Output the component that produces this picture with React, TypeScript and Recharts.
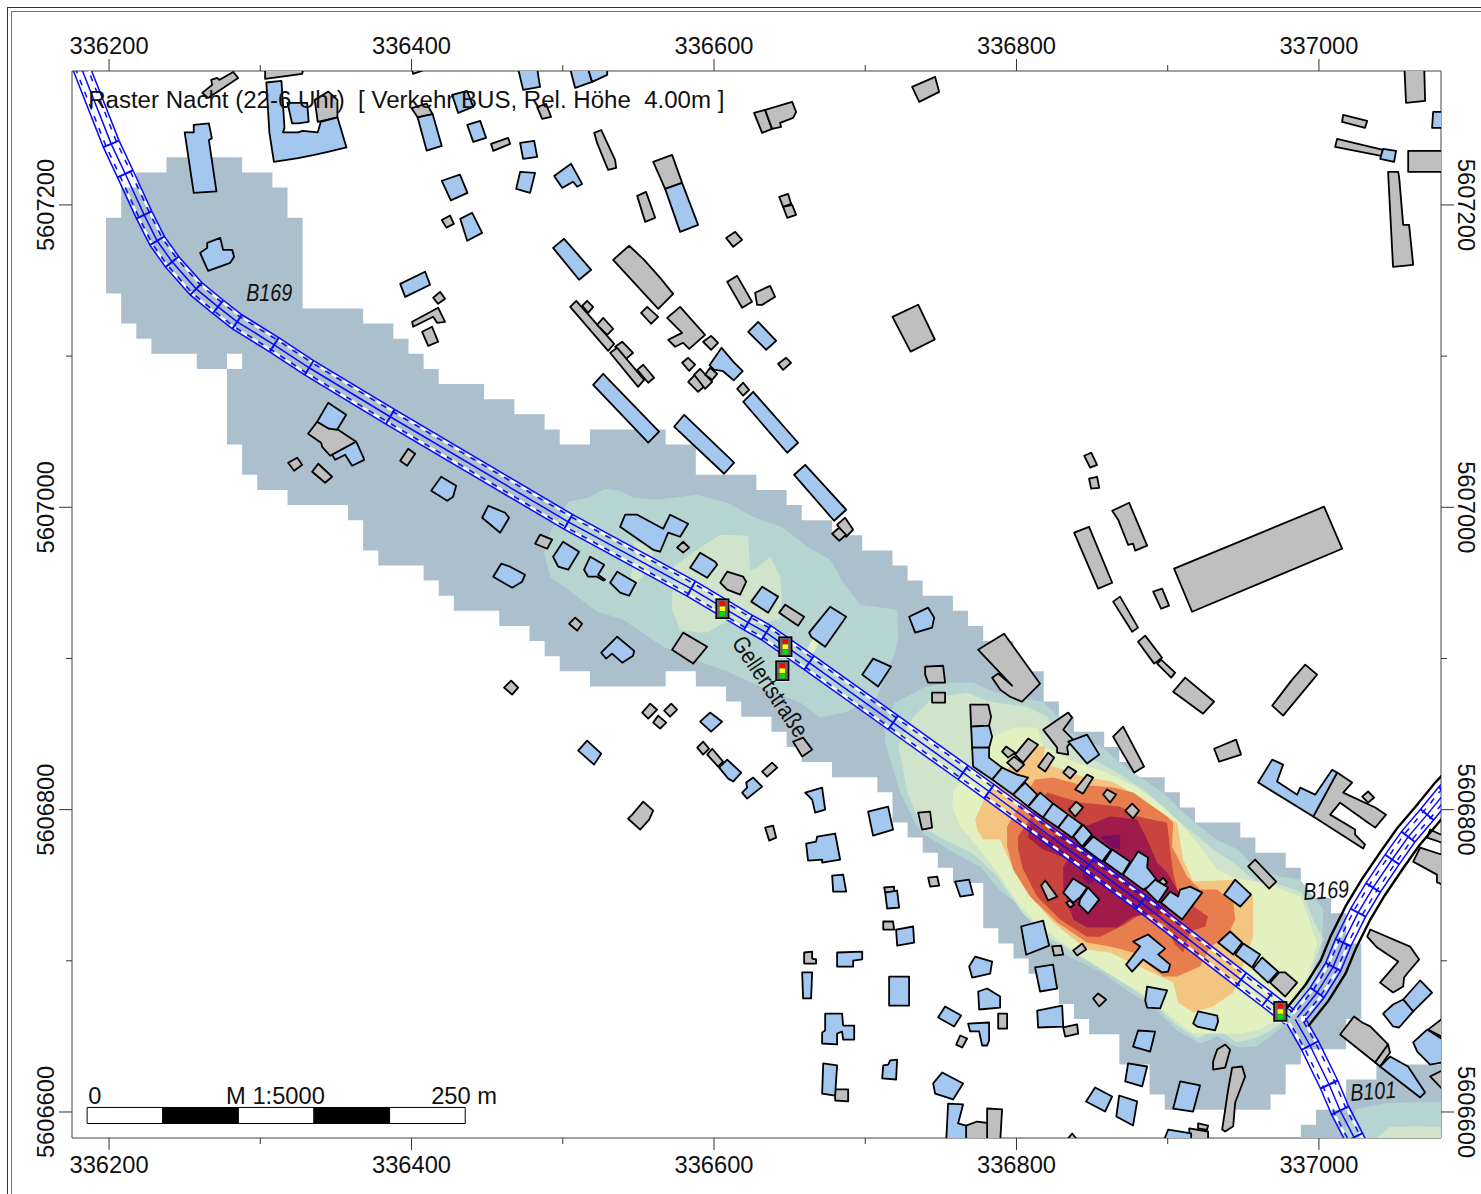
import React from 'react';
import { ScatterChart, Scatter, XAxis, YAxis } from 'recharts';

const E0 = 336000;
const N0 = 5606000;
const xDomain = [336175.5, 337080.7];
const yDomain = [5606582.8, 5607288.6];
const xTicks = [336200, 336300, 336400, 336500, 336600, 336700, 336800, 336900, 337000];
const yTicks = [5606600, 5606700, 5606800, 5606900, 5607000, 5607100, 5607200];

// Raster levels, easting/northing offsets in metres
const slateA = [238,1231.5,288,1231.5,288,1221.5,308,1221.5,308,1211.5,318,1211.5,318,1191.5,328,1191.5,328,1131.5,368,1131.5,368,1121.5,388,1121.5,388,1111.5,398,1111.5,398,1101.5,408,1101.5,408,1091.5,418,1091.5,418,1081.5,448,1081.5,448,1071.5,468,1071.5,468,1061.5,488,1061.5,488,1051.5,498,1051.5,498,1041.5,518,1041.5,518,1051.5,568,1051.5,568,1041.5,588,1041.5,588,1021.5,628,1021.5,628,1011.5,648,1011.5,648,1001.5,658,1001.5,658,991.5,678,991.5,678,981.5,698,981.5,698,971.5,718,971.5,718,961.5,728,961.5,728,951.5,738,951.5,738,941.5,758,941.5,758,931.5,768,931.5,768,921.5,778,921.5,778,911.5,798,911.5,798,891.5,818,891.5,818,871.5,828,871.5,828,861.5,838,861.5,838,851.5,858,851.5,858,841.5,868,841.5,868,831.5,878,831.5,878,821.5,898,821.5,898,811.5,908,811.5,908,801.5,918,801.5,918,791.5,948,791.5,948,781.5,958,781.5,958,771.5,978,771.5,978,761.5,988,761.5,988,741.5,1008,741.5,1008,731.5,1018,731.5,1018,711.5,1028,711.5,1028,661.5,1018,661.5,1018,641.5,988,641.5,988,631.5,978,631.5,978,611.5,968,611.5,968,601.5,898,601.5,898,611.5,888,611.5,888,631.5,868,631.5,868,651.5,848,651.5,848,661.5,838,661.5,838,671.5,828,671.5,828,681.5,818,681.5,818,691.5,808,691.5,808,701.5,798,701.5,798,711.5,788,711.5,788,721.5,778,721.5,778,751.5,758,751.5,758,761.5,748,761.5,748,771.5,738,771.5,738,781.5,728,781.5,728,791.5,718,791.5,718,811.5,708,811.5,708,821.5,678,821.5,678,831.5,658,831.5,658,841.5,648,841.5,648,851.5,638,851.5,638,861.5,618,861.5,618,871.5,608,871.5,608,881.5,588,881.5,588,891.5,568,891.5,568,881.5,518,881.5,518,891.5,498,891.5,498,901.5,488,901.5,488,911.5,478,911.5,478,921.5,458,921.5,458,931.5,428,931.5,428,941.5,418,941.5,418,951.5,408,951.5,408,961.5,378,961.5,378,971.5,368,971.5,368,991.5,358,991.5,358,1001.5,318,1001.5,318,1011.5,298,1011.5,298,1021.5,288,1021.5,288,1041.5,278,1041.5,278,1091.5,288,1091.5,288,1101.5,278,1101.5,278,1091.5,258,1091.5,258,1101.5,228,1101.5,228,1111.5,218,1111.5,218,1121.5,208,1121.5,208,1141.5,198,1141.5,198,1191.5,208,1191.5,208,1211.5,218,1211.5,218,1221.5,238,1221.5];
const slateB = [988,575,988,591.5,998,591.5,998,601.5,1018,601.5,1018,621.5,1038,621.5,1038,631.5,1090,631.5,1090,575];
const tealA = [487.7,970,491.7,983.2,503.6,1003.7,516.8,1006.3,528,1012.3,537.9,1011,546.5,1006.3,562.4,1005,588.9,1008.3,608.7,1003,625.9,993.8,645.7,986.5,661.6,973.9,676.8,965.3,685.4,950.1,696.6,935.6,721.1,932.3,721.8,914.4,719.8,903.8,707.9,874.7,688,864.8,670.2,860.9,657,870.8,635.1,879.4,608.7,891.3,592.8,897.2,566.4,907.8,539.9,925.7,522.7,931,506.2,943.5,491.7,954.1];
const tealB = [713.2,844.3,712.5,856.2,719.8,870.8,726.4,874.1,738.3,880.7,754.2,884,771.3,884,784.6,878,800.4,874.1,817.6,871.4,827.6,861.5,835.5,850.9,857.3,841,868.5,831.1,877.1,824.5,896.9,811.3,908.2,800,918.1,791.4,932.7,780,946.5,773.6,956.5,762.3,974.3,755.7,987.6,753.7,994.2,745.2,1002.8,733.9,1002.1,714.1,1000.8,700.9,996.2,683,979,659.2,959.1,643.3,946.5,642.7,932.7,650,921.4,645.3,906.2,653.9,890.4,669.8,873.2,680.4,855.3,692.9,830.9,704.8,815.6,718,802.4,736.5,789.2,746.5,776,762.3,756.1,772.9,738.3,784.1,734.3,788.8,723.1,811.3];
const tealC = [1015,575,1018,590,1025,602,1045,606,1090,607,1090,575];
const paleA = [572.3,940.9,573,960.7,590.8,973.3,604.1,981.9,622.6,981.2,623.9,958.7,628.5,960,637.1,967.3,643.7,954.1,645,940.9,643.7,925.7,623.9,922.4,610.7,925.7,595.5,917.1,590.8,917.1,577.6,919,572.3,932.3];
const paleTip = [660.9,902.5,663.6,910.4,667.5,916.4,668.8,909.1,664.9,902.5];
const palePatch = [545.9,977.9,561.1,973.3,557.8,962,551.2,952.1,547.2,944.2,543.2,945.5,545.9,958.7,548.5,968.6];
const paleB = [721.8,841.7,724.4,848.3,731.7,861.5,744.9,874.1,767.4,877.4,782.6,871.4,807.1,868.1,820.3,861.5,828.9,846.3,846.7,835.1,866.6,824.5,886.4,811.3,903.6,795.4,916.8,784.8,930,773.6,943.3,765,959.1,751.8,974.3,750.4,988.9,745.2,996.2,727.3,1002.8,714.1,997.5,700.9,994.2,687.6,976.3,659.2,961.1,649.9,945.9,646,932.7,654.6,919.5,648.6,906.2,657.2,890.4,671.8,868.5,687,842.1,702.8,820.3,716.1,804.4,731.3,787.2,755.7,771.3,770.9,744.9,784.1,736.3,791.4,727.7,811.3,725.1,826.5];
const paleC = [1034,575,1038,583,1047,590,1062,590.5,1090,590,1090,575];
const yellowB = [758.1,811.9,784.6,848.3,797.8,854.3,813.7,854.3,817.6,841.7,840.1,831.1,859.9,824.5,879.8,814.6,896.9,802,908.2,791.4,919.5,778.2,932.7,760.4,943.3,755.1,963.1,751.8,987.6,742.5,994.2,725.3,998.8,712.1,996.2,700.9,992.8,689.6,976.3,663.2,961.1,654.6,947.9,651.9,916.8,651.9,903.6,661.8,886.4,676.4,863.9,689.6,837.5,706.8,815.6,722.7,802.4,736.5,784.6,762.3,774,775.6,762.8,788.8,757.5,802];
const peachB = [772.7,793.4,780.6,811.3,797.8,831.1,813.7,841.7,818.9,841.7,817.6,831.1,844,821.9,863.9,818.5,879.8,808.6,899.6,795.4,906.2,791.4,910.2,766.9,916.8,752.4,943.3,753.7,956.5,742.5,956.5,716.1,943.3,679,930,669.8,916.8,665.8,906.9,672.4,903.6,685.6,895,689.6,861.9,705.5,846.7,707.5,824.3,725.3,807.1,745.1,795.8,765,789.2,780.2,778,780.2,774,786.8];
const orangeB = [793.8,788.8,812.3,819.9,824.2,821.2,842.1,816.5,863.9,814.6,877.1,811.3,899.6,795.4,903.6,791.4,902.9,775.6,912.8,755.7,921.4,747.2,932.7,747.2,943.3,738.5,944.6,727.3,939.3,716.1,928.1,709.4,921.4,696.2,906.2,689.6,897,689.6,877.1,705.5,861.9,709.4,846.7,712.1,826.9,725.3,809,742.5,797.8,760.4,793.8,775.6];
const redB = [801.1,782.2,820.3,811.3,842.1,804.7,868.5,802,879.8,795.4,899.6,791.4,901.6,773.6,903.6,758.4,906.2,747.2,918.1,735.2,926.7,729.3,924.8,722.7,914.8,719.4,910.2,705.5,904.9,710.8,898.3,724,881.8,730.6,871.8,724,855.3,716,846.7,716,828.9,727.3,813.7,742.5,804.4,760.4,801.1,773.6];
const crimsonB = [809,791.4,822.3,781.5,848.7,790.1,861.9,795.4,879.8,793.4,886.4,780.2,893,765,899.6,758.4,906.2,747.2,911.5,737.2,895,730.6,886.4,730.6,877.1,729.3,866.6,722,846.7,722,837.5,727.3,830.9,749.1,830.9,762.3,834.2,767,817.6,773.6,807.7,781.5];
const purpleA = [855.3,782.2,868.5,783.5,868.5,773.6,861.9,775.6];
const purpleB = [844,762.3,852,753.7,847.3,750.4,844,755];

const rasterLevels: [number[], string][] = [
  [slateA, '#abc0cc'], [slateB, '#abc0cc'], [tealA, '#b7d5d0'], [tealB, '#b7d5d0'], [tealC, '#b7d5d0'],
  [paleA, '#d0e3cb'], [paleTip, '#e2efc0'], [palePatch, '#d0e3cb'], [paleB, '#d0e3cb'], [paleC, '#d0e3cb'],
  [yellowB, '#e3f0c0'], [peachB, '#f3c581'], [orangeB, '#e87d4d'], [redB, '#c9443c'], [crimsonB, '#9f1b4a'],
  [purpleA, '#7a0d5e'], [purpleB, '#7a0d5e'],
];

const greyBuildings: number[][] = [
  [336,1269.5,345,1275,351,1269.5,351,1258,338,1255],
  [400,1264,410,1267,414,1260,404,1258],
  [420,1190,425.5,1193,428,1187.5,423,1185],
  [414.3,1138.6,418.9,1142.5,422.2,1137.9,417.6,1134.6],
  [400.4,1122.7,417.6,1132,422.2,1122.7,416.9,1122,414.3,1126,401.1,1119.4],
  [407,1116.1,413.6,1119.4,417.6,1109.5,411,1106.8],
  [261.6,1274.1,268.2,1279.4,267.5,1282.7,271.5,1284,272.8,1282.7,282.1,1288,285.4,1284,265.5,1270.8],
  [303.2,1289.5,328.3,1289.5,327.7,1286.7,303.2,1283.4],
  [483,1264.8,489,1266.8,492.3,1258.2,486.4,1256.9],
  [452.6,1240.4,463.9,1244.4,465.2,1240.4,454,1235.8],
  [520.8,1247.7,525.4,1249.6,534.6,1229.8,535.3,1224.5,530,1223.2,526.7,1231.1,522.7,1241],
  [559.8,1228.5,572.3,1233.1,578.9,1214.6,567.7,1210.6],
  [549.2,1206,555.1,1208.6,561.1,1191.5,554.5,1188.8],
  [626.5,1260.9,633.8,1262.9,638.4,1250.3,631.8,1247.7],
  [633.8,1262.9,651.7,1268.2,654.3,1261.5,652.3,1257.6,643.7,1254.3,644.4,1251.6,638.4,1250.3],
  [731,1278.1,746.2,1284.7,748.9,1274.8,735.7,1268.2],
  [643.1,1205.3,649,1207.3,651,1200.7,645.7,1198.7],
  [645.7,1198.7,651.7,1200,654.3,1193.4,648.4,1191.5],
  [608,1178.2,614,1182.2,618.6,1176.9,612.7,1172.3],
  [533.3,1163.7,543.9,1173,553.8,1163.7,564.4,1151.8,573,1141.2,563.1,1131.3],
  [551.8,1128.6,555.8,1132.6,563.1,1126,558.4,1121.4],
  [504.9,1132.6,508.9,1136.6,534,1108.1,530,1103.5],
  [512.8,1133.3,516.1,1136.6,520.1,1132.6,516.8,1128.6],
  [522.7,1120.7,526.7,1125.3,533.3,1118.1,529.4,1114.1],
  [534.6,1106.2,539.3,1109.5,546.5,1102.2,541.9,1098.2],
  [531.3,1102.2,536,1105.5,553.8,1084.3,549.8,1079.7],
  [549.2,1090.9,553.2,1094.3,560.4,1085.7,556.5,1082.4],
  [569,1125.3,577.6,1132.6,594.1,1114.1,583.6,1104.8,579.6,1108.8,574.3,1106.2,569.7,1110.8,578.9,1115.4],
  [592.8,1109.5,598.1,1113.4,602.7,1108.8,598.1,1104.2],
  [608.7,1149.1,615.3,1153.1,625.2,1135.9,618.6,1132],
  [627.2,1141.9,637.1,1146.5,640.4,1139.2,631.8,1133.9,628.5,1133.9],
  [642.4,1094.9,647.7,1098.9,651,1095.6,645.7,1090.9],
  [718,1126,735,1134,746,1111,730,1103],
  [578.9,1095.6,582.9,1098.9,587.5,1094.3,583.6,1090.3],
  [582.9,1083,587.5,1087.7,594.1,1080.4,589.5,1076.4],
  [586.9,1087.7,590.8,1091.6,598.8,1083,594.1,1078.4],
  [594.1,1087.7,597.4,1092.3,602.1,1088.3,598.8,1084.3],
  [615.3,1078.4,619.3,1082.4,623.2,1077.7,619.3,1073.8],
  [681.4,988.5,686.7,993.1,692,985.2,687.4,980.5],
  [678.1,982.5,682.7,986.5,687.4,981.8,682.7,977.9],
  [331.6,1048.6,337.6,1056.6,345.5,1052,347.5,1053.9,363.4,1043.4,346.2,1034.1,340.9,1040,340.2,1042.7],
  [318.4,1029.5,324.4,1032.8,327.7,1028.1,322.4,1024.2],
  [334.3,1023.5,338.3,1028.8,347.5,1020.2,342.9,1016.2],
  [392.5,1030.8,397.8,1038.7,402.4,1035.4,397.1,1027.5],
  [461.2,880.7,465.9,885.3,470.5,880.7,466.5,876.1],
  [575.6,973.3,579.6,977.2,583.6,973.3,579.6,970],
  [481.7,975.9,485,981.9,493,978.6,489.7,972.6],
  [604.1,950.1,608.7,957.4,619.3,954.1,621.3,950.8,617.3,942.2,608.7,945.5],
  [643.1,930.3,647.1,935.6,659.6,927.6,655.6,921.7],
  [739.6,894.6,751.5,895.2,752.8,884,741.6,884,739.6,889.3],
  [744.2,877.4,752.8,877.4,752.8,870.8,744.2,870.8],
  [504.2,923,508.2,927,512.8,923,509.5,918.4],
  [572.3,905.8,579.6,917.1,595.5,907.8,592.2,903.8,586.2,896.6],
  [552.5,864.2,557.8,870.1,562.4,866.1,556.5,860.2],
  [567,865.5,571.7,870.1,575.6,866.1,571,861.5],
  [559.8,857.6,563.1,862.2,568.4,857.6,564.4,853.6],
  [652.3,845,659,847.6,664.9,839.7,658.3,835.1],
  [588.9,841,592.8,845,596.8,840.3,592.8,836.4],
  [595.5,836.4,598.8,840.3,606,831.8,602.7,828.5],
  [631.8,825.2,638.4,831.1,641.8,827.8,635.1,821.8],
  [633.8,788.1,639.1,789.4,641.1,781.5,636.5,779.5],
  [543.2,794,545.9,796.7,553.2,805.3,559.8,799.4,557.1,793.4,551.2,786.8],
  [769.4,869.5,781.3,869.5,783.2,861.5,781.9,855.6,770,854.9],
  [894.3,752.4,897,755,899.6,751.7,897,749.8],
  [967.7,685.6,973.7,692.3,977.7,692.3,985.6,685.6,977.7,676.4],
  [953.2,762.4,957.8,767,971.7,752.4,967.1,747.8],
  [774.6,905.8,791.8,916.4,815.6,883.3,803.7,871.4,795.8,874.7,789.2,879.4,783.9,887.3,787.9,890,797.1,882],
  [735,798,742.9,798.7,744.2,788.1,737.6,786.8],
  [790.5,838.4,793.1,841.7,799.1,837.7,794.5,834.4],
  [799.1,836.4,807.7,847,814.3,842.9,804.4,831.1],
  [793.8,831.1,798.4,835.1,805.1,829.8,800.4,825.2],
  [814.3,828.5,820.9,837.7,824.9,834.4,819,825.2],
  [830.9,824.5,834.2,828.5,839.5,825.2,835.5,820.5],
  [838.8,813.3,846.7,823.2,850.7,821.2,844,810.6],
  [857.3,810,859.9,813.3,865.9,810,861.9,804.7],
  [871.9,799.4,876.5,804,881.1,799.4,877.1,794.1],
  [834.8,800,839.5,805.3,844,801.4,838.8,795.4],
  [817.6,852.9,834.2,864.2,836.8,860.9,830.9,852.9,837.5,846.3,833.5,841.7,834.2,836.4,826.9,837.7,826.9,841],
  [863.9,848.3,870.5,854.9,884.4,828.5,877.8,824.5],
  [903.6,878,911.5,887.3,930.7,871.4,923.4,863.5],
  [930.7,840.3,945.2,846.3,948.5,836.4,934,831.8],
  [969.1,868.8,982.3,886,990.9,895.9,998.8,889.3,976.3,862.2],
  [996.2,795.4,1012,824.5,1021.9,817.9,1016,811.3,1037.2,801.4,1044.4,796.7,1037.2,788.1,1032.5,791.4,1014,804.6,1007.4,796.7,1023.9,786.8,1023.9,783.5,1030.5,776.9,1029.2,774.3],
  [1028.6,808.6,1032.5,812,1036.5,808,1032.5,804.6],
  [1062.3,765.6,1066.9,774.9,1085,769,1085,749,1078,752,1078,757],
  [1071.5,781.5,1073.5,786.8,1085,781.5,1085,776.9],
  [1031.9,716,1033.9,720.7,1060.3,709.4,1066.3,700.9,1058.9,692.3,1056.3,689,1055.7,683,1049,679,1040.4,685.6,1052.4,699.5,1038.5,708.8],
  [1014,651.3,1023.2,663.2,1028.6,659.2,1033.9,656.6,1045.7,644.7,1037.2,632.7],
  [1037.2,632.7,1045.7,644.7,1047,639.4,1040.4,630.1],
  [1072.1,654.5,1085,664.5,1085,647.9],
  [1073.5,623.5,1085,629.4,1085,611.6],
  [936,588.4,940,614.9,942.6,629.4,949.2,630.1,951.2,623.5,944.6,606.3,943.3,590.5,938,587.1],
  [932.7,641.3,938,644.6,941.3,641.3,938,629.4,930,628.1,930,633.4],
  [823.6,709.5,829.5,710.1,830.9,704.1,824.9,703.5],
  [837.5,706.8,843.4,711.4,846.1,707.5,840.1,703.5],
  [850.7,675.1,854,678.4,859.3,674.4,854.7,669.8],
  [830.9,655.9,840.1,657.9,840.8,651.9,832.2,649.9],
  [914.2,589.1,926.7,587.1,926.7,580,914.8,580],
  [920.1,592.4,926.7,591,926,588.2,920.1,589.1],
  [766.7,591,774,593.7,783.9,592.4,783.9,580,766.7,580],
  [780.6,602.3,790.5,601.7,789.2,580,780.6,580],
  [680.1,614.9,688.7,614.9,688.7,607,680.1,607.6],
  [659.6,705.5,664.9,706.1,664.9,701.5,667.5,700.9,667.5,698.2,659.6,698.2],
  [712.5,748.5,719.1,749.1,719.1,745.8,713.2,745.1],
  [711.9,726,718.4,726,719.1,720.7,711.9,720.7],
  [741.6,755.1,747.6,755.7,748.9,749.8,742.9,749.1],
  [760.1,644.6,762.8,650.6,767.4,648.6,764.1,642.7],
  [787.9,665.1,793.8,665.1,793.8,655.2,787.9,655.2],
  [816.3,749.8,819,753.1,826.9,742.5,820.9,739.9],
  [832.8,738.5,835.5,739.9,838.1,737.2,835.5,735.2],
  [1056.3,1295,1069.5,1295,1070.2,1268.8,1057.6,1267.5],
  [1016,1259.6,1031.9,1255.6,1030.5,1251,1015.3,1254.9],
  [1012,1243.7,1042.4,1236.4,1041.1,1232.5,1010.7,1238.4],
  [1059,1235.8,1085,1235.8,1085,1221.9,1059,1221.9],
  [1045.7,1221.9,1052.4,1221.9,1053,1218.6,1055.7,1186.8,1059.6,1186.8,1062.3,1160.4,1049,1159],
  [904.2,959.4,1003.4,1000.4,1015.3,972.6,916.1,930.9],
  [844.8,1034.1,849.4,1036.1,853.3,1028.1,848.7,1026.2],
  [848,1018.9,853.3,1020.2,854.7,1012.9,849.4,1012.3],
  [863.3,997.7,874.5,1003,886.4,974.6,878.5,971.3,877.1,975.9,873.8,975.2,867.2,991.8],
  [838.1,983.2,848,987.1,863.3,950.1,854,946.2],
  [890.4,944.2,896.3,946.2,900.9,934.9,895.6,932.9],
  [863.9,937.6,868.5,940.9,880.4,920.4,876.5,917.7],
  [880.4,911.1,885.1,915.1,896.3,900.5,891,896.6],
  [893,896.6,895.6,899.2,904.9,890.6,902.3,887.3],
];

const blueBuildings: number[][] = [
  [250,1248,256,1248,256,1253,266,1254,268,1244,266,1243,271,1209,256,1208],
  [304,1281,314,1282,316,1251,315,1248,325,1248,328,1249,338,1248,340,1255,351,1258,357,1238,344,1235,335,1233,325,1231,309,1228.5,306,1248],
  [318,1267.5,331,1267.5,332,1255,325,1254,321,1254],
  [404,1258,414,1260,420,1239,410,1236],
  [420,1216,432,1220,437,1208,426,1203],
  [392.5,1147.8,409,1155.8,412.3,1147.2,395.8,1139.2],
  [400.4,1290,410.3,1290,401,1286.7],
  [260.2,1168.3,264.9,1171.6,264.9,1174.9,273.5,1178.2,275.4,1170.3,281.4,1170.3,282.7,1165.7,280.1,1161.7,265.5,1156.4],
  [470.5,1290,483.1,1290,485,1278.1,473.8,1276.1],
  [504.9,1290,516.8,1290,519.4,1281.4,508.2,1277.4],
  [516.8,1290,529.4,1290,529.4,1286,519.4,1281.4],
  [426.9,1272.8,436.8,1275.4,440.8,1264.9,430.8,1260.9],
  [436.8,1253,445.4,1255.6,449.3,1244.4,440.8,1241.7],
  [471.8,1241,481.1,1242.4,483.1,1231.8,473.8,1230.5],
  [471.8,1221.9,481.7,1221.2,478.4,1208,469.2,1210.6],
  [494.3,1219.2,505.5,1227.2,512.8,1213.9,509.5,1212,506.9,1215.3,499.6,1211.3],
  [432.2,1190.8,440.1,1194.8,446.7,1181.5,436.8,1176.3],
  [567.7,1210.6,578.9,1214.6,589.5,1186.8,577.6,1182.2],
  [493.6,1171.6,500.9,1177.6,518.8,1157.1,510.8,1150.5],
  [622.6,1116.1,629.2,1122.7,641.1,1110.1,634.5,1104.2],
  [597,1094,605,1105.5,613,1096,619,1090,613,1084,606,1090,600,1091],
  [619.3,1069.8,625.9,1076.4,655.6,1042.7,648.4,1036.1],
  [520.1,1081,526.7,1088.3,563.7,1050,556.5,1042.7],
  [573.6,1053.3,580.3,1061.2,613.3,1029.5,606.7,1022.2],
  [653,1021.5,660.3,1028.1,687.4,998.4,679.4,991.1],
  [337.6,1056.6,344.9,1069.1,356.8,1061.2,350.8,1051.3,345.5,1052],
  [347.5,1034.8,363.4,1043.4,368,1033.4,368.7,1031.4,360.7,1027.5,356.1,1034.8,349.5,1031.4],
  [413,1010.9,419.6,1020.2,429.5,1014.2,427.5,1006.9,423.6,1004.3],
  [446.7,993.1,450.7,1001,461.9,996.4,464.5,993.1,458.6,983.2],
  [454,954.1,459.3,962.7,465.2,960.7,475.1,955.4,473.1,950.8,466.5,946.8],
  [537.9,987.1,541.3,995.1,549.2,995.1,566.4,985.8,571,995.1,582.9,989.1,577.6,980.5,569.7,983.2,564.4,970.6,559.8,971.9],
  [493.6,967.3,500.2,977.2,510.8,970.6,503.6,958.7,497,960.7],
  [514.1,958.7,518.1,967.3,527.4,962,523.4,955.4,528,952.1,526.7,951.5,522.7,954.1,516.8,954.1],
  [531.3,950.1,536,957.4,548.5,950.1,543.9,941.5,537.9,943.5],
  [584.2,960,590.8,969.9,600.8,964,602.1,962,595.5,953.4],
  [624.6,937.6,631.8,947.5,642.4,940.9,635.8,930.3],
  [662.9,917.1,676.8,934.2,687.4,927.6,673.5,907.8,664.2,914.4],
  [698,889.3,705.2,899.9,717.1,894.6,708.5,881.4],
  [729,927.6,741.6,933.6,745.6,927,744.2,920.4,733,917.1],
  [525.4,903.8,536,914.4,547.2,905,546.5,901.8,539.3,897.2,532.6,903.2,528.7,899.9],
  [590.8,858.2,597.4,864.2,605.4,858.2,598.1,851.6],
  [510.2,839,516.1,845.6,525.4,837,520.7,829.8],
  [603.4,827.8,608.7,833.1,618,824.5,612.7,818.6,609.4,820.5],
  [618.6,811.3,621.9,814.6,621.3,817.9,625.9,821.2,631.8,815.2,621.9,807.3],
  [660.3,811.3,671.5,814.6,673.5,800,666.9,798,664.9,806.6],
  [660.9,777.5,667.5,778.9,668.2,782.2,680.1,784.2,683.4,767,671.5,765,671.5,767,662.2,766.3],
  [701.9,798.7,715.1,802,718.4,786.8,705.2,782.8],
  [770,854.9,781.9,855.6,783.9,848.3,781.9,841,770.7,841],
  [770.7,841,781.9,841,781.9,834.4,790.5,827.8,783.9,819.9,771.3,828.5],
  [783.9,819.9,790.5,827.8,800.4,823.2,807.7,821.2,797.8,809.9],
  [797.8,809.9,805.7,817.9,813.7,809.9,807.7,802],
  [807.7,802,815.6,811.3,824.2,804,817.6,794.8],
  [817.6,794.8,824.2,804,834.2,796.7,827.6,788.1],
  [827.6,788.1,834.2,796.7,843.4,790.1,836.8,781.5],
  [837.5,782.2,844,790.1,849.9,783.5,843.4,775.6],
  [844,774.9,850.7,782.2,862.6,773.6,856.6,765.6],
  [858,765.6,863.3,773.6,875.2,765.6,869.9,757],
  [870.5,757,880.4,772.3,887,768.3,886.4,761.7,893.7,752.4,883.8,747.1],
  [885.1,747.1,891.7,753.7,900.3,748.5,893.7,738.5],
  [895.6,738.5,901.6,745.8,906.9,742.5,908.2,747.1,914.8,749.1,922.8,745.1,909.5,727.3],
  [933.3,712.1,941.3,719.4,949.2,712.1,943.3,704.2],
  [944.6,704.2,949.9,711.4,961.1,704.2,955.8,695.6],
  [956.5,694.9,962.4,702.2,973,692.9,966.4,685.6],
  [937.3,743.8,944.6,753.7,955.1,743.8,947.9,735.9],
  [834.2,845,846.7,849.6,854.7,836.4,846.7,830.5],
  [959.8,817.9,969.1,833.1,976.3,829.8,972.3,818.6,985.6,809.9,987.6,814.6,997.5,809.9,1008.7,826.4,1012,824.5,996.2,795.4],
  [1055.7,674.4,1066.9,687,1074.8,679,1062.3,666.5],
  [1042.4,665.1,1049,671.1,1055.7,674.4,1062.3,666.5,1053,655.9,1049,656.6],
  [1040.4,630.1,1047,636.7,1058.9,630.1,1070.2,612.9,1066.9,609.6],
  [1062.3,646,1071.5,654.5,1085,646,1085,633.4,1073.5,631.4,1065,640],
  [916.8,658.5,920.1,666.5,932.7,663.8,933.3,659.9,931.3,654,919.5,656.5],
  [803.1,722.7,817.6,726.6,821.6,710.1,806.4,704],
  [812.3,695.6,824.2,697.5,826.9,681.6,815.6,679.7],
  [813.7,667.1,830.2,670.4,830.9,656.5,814.3,655.9],
  [885.1,673.7,886.4,683,899.6,680.4,895,668.5,886.4,669.1],
  [877.1,643.3,880.4,653.9,891.7,653.2,888.4,640],
  [871.9,620.2,873.8,632.1,886.4,630.1,883.1,616.9],
  [903.6,602.3,908.2,620.2,921.4,617.6,916.8,600.3],
  [846,606.9,852,616.2,863.3,610.3,858.6,600.3],
  [866,597,867.9,610.9,879.8,607,877.1,591.1],
  [897,580,900.3,588.4,915.5,585.8,915.5,580],
  [832.2,580,836.8,585.8,841.4,580],
  [744.9,618.9,750.9,626.1,764.7,618.9,758.1,608.3,746.2,612.2],
  [753.5,580,754.8,605.6,764.7,605,761.4,592.4,766.7,591,766.7,580],
  [671.5,612.2,672.2,632.1,681.4,630.8,680.1,610.9],
  [711.2,622.2,711.9,630.8,715.2,631.4,716.5,634.1,721.1,634.7,720.4,621.5],
  [671.5,645.3,671.5,652.6,673.5,653.9,673.5,665.1,684.7,665.1,685.4,657.2,692.7,657.2,692.7,647.9,685.4,647.9,684.7,653.2,681.4,651.9,681.4,644.7],
  [715.8,689.6,729,689.6,729,670.4,715.8,670.4],
  [681.4,705.5,698,706.1,698,700.9,692,700.2,692,696.2,681.4,696.2],
  [658.3,692.3,664.9,692.3,664.2,675.1,658.9,675.1],
  [678.1,756.4,685.4,757,687.4,745.8,678.8,745.8],
  [713.2,745.1,721.1,746.5,722.4,735.2,714.5,734.6],
  [720.4,720.7,731.7,722.7,732.3,712.1,721.1,710.1],
  [759.4,752.4,768.7,753.7,771.3,743.8,762.8,742.5],
  [768.7,696.2,772.7,702.8,783.9,699.5,782.6,691.6,770.7,688.9],
  [774.7,679.7,780.6,681.7,789.2,676.4,789.2,669.1,775.3,667.8],
  [748.2,662.5,752.8,669.8,763.4,663.8,758.8,656.6],
  [768,658.5,781.9,659.2,781.9,647.3,780.6,644,777.3,644,775.3,653.3,769.4,653.3],
  [830.9,745.1,837.5,754.4,846.7,748.5,842,741.9,837.5,738.5],
  [842,740.5,847.3,748.5,854.7,740.5,847.3,731.3,841.4,737.2],
  [872.5,697.5,881.8,709.5,877.1,712.7,887,717.4,898.3,708.1,893.7,704.1,901.6,697.5,900.3,692.9,896.3,692.3,883.8,700.9,876.5,692.9],
  [1075.5,1261.5,1085,1261.5,1085,1251,1074.8,1251],
  [1042.4,1237.1,1051,1235.8,1049.7,1228.5,1040.5,1230.5],
];

// Road centre lines; every inner vertex carries a cross bar
const roadWest = [179.6,1295.9,201.4,1240.4,210.7,1220.6,223.2,1193.4,231.8,1176.3,241.7,1162.4,257.6,1144.5,272.1,1132.6,284.7,1122.7,309.2,1107.5,332.3,1092.3,385.9,1059.9,503.6,990.4,584.9,946.2,622.6,923.7,634.5,917.1,662.9,897.2,718.4,857.6,764.7,824.5,781.9,812,848,763.7,882.4,738.5,948.5,687.6,965.7,674.4,981,662.5];
const roadEast = [985.6,662.5,998.8,679,1009.4,696,1016,712,1025.9,731.9,1035.8,748.4,1048.4,767,1059,782,1071.5,796.7,1083.4,811.3,1096.7,825.2];
const roadSouth = [984.3,661.2,994.1,644,1006.7,618.2,1014,601,1023.2,583.2,1030.5,568.6];

const scaleSegments = [185.5, 235.5, 285.5, 335.5, 385.5, 435.5];
const scaleTop = 603;
const scaleBottom = 592.4;
const trafficLights = [[605.4, 932.9], [647, 907.8], [645, 891.9], [974.3, 666.5]];

const textLabels = [
  { e: 186.2, n: 1264.2, text: 'Raster Nacht (22-6 Uhr)  [ Verkehr BUS, Rel. Höhe  4.00m ]', anchor: 'start', size: 24.05 },
  { e: 186.2, n: 605.6, text: '0', anchor: 'start', size: 23.7 },
  { e: 277.4, n: 605.6, text: 'M 1:5000', anchor: 'start', size: 23.7 },
  { e: 413, n: 605.6, text: '250 m', anchor: 'start', size: 23.7 },
];
const roadLabels = [
  { e: 305.9, n: 1141.9, text: 'B169', rot: 0, len: 46 },
  { e: 1004.7, n: 746.5, text: 'B169', rot: -4, len: 46 },
  { e: 1035.8, n: 613.6, text: 'B101', rot: -4, len: 46 },
  { e: 637.1, n: 881.4, text: 'Gellertstraße', rot: 56, len: 116 },
];

const FONT = '"Liberation Sans", Arial, sans-serif';
const pts = (flat: number[]) => {
  const out: { x: number; y: number }[] = [];
  for (let i = 0; i < flat.length; i += 2) out.push({ x: E0 + flat[i], y: N0 + flat[i + 1] });
  return out;
};
const NoDot = () => null;

const polyLine = (fill: string, stroke: string, sw: number) => (p: any) => (
  <polygon
    points={p.points.map((q: any) => `${q.x},${q.y}`).join(' ')}
    fill={fill}
    stroke={stroke}
    strokeWidth={sw}
    strokeLinejoin="round"
  />
);

const normals = (ps: any[]) =>
  ps.map((q, i) => {
    const a = ps[Math.max(i - 1, 0)];
    const b = ps[Math.min(i + 1, ps.length - 1)];
    const dx = b.x - a.x;
    const dy = b.y - a.y;
    const l = Math.hypot(dx, dy) || 1;
    return { nx: -dy / l, ny: dx / l };
  });

const roadLine = (half: number, dash: number, barHalf: number, casing: number) => (p: any) => {
  const ps = p.points;
  const ns = normals(ps);
  const off = (d: number) => ps.map((q: any, i: number) => `${q.x + ns[i].nx * d},${q.y + ns[i].ny * d}`).join(' ');
  const blue = '#0a0aff';
  return (
    <g fill="none">
      {casing > 0 &&
        [-casing, casing].map((d) => <polyline key={d} points={off(d)} stroke="#000" strokeWidth={2.4} />)}
      {[-dash, dash].map((d) => (
        <polyline key={'w' + d} points={off(d)} stroke="#fff" strokeWidth={2.6} strokeDasharray="7 6" />
      ))}
      {[-dash, dash].map((d) => (
        <polyline key={'b' + d} points={off(d + (d > 0 ? -0.8 : 0.8))} stroke={blue} strokeWidth={1.5} strokeDasharray="6 7" strokeDashoffset={7} />
      ))}
      {[-half, 0, half].map((d) => (
        <polyline key={'s' + d} points={off(d)} stroke={blue} strokeWidth={1.5} />
      ))}
      {ps.slice(1, -1).map((q: any, i: number) => {
        const n = ns[i + 1];
        return (
          <line
            key={i}
            x1={q.x - n.nx * barHalf}
            y1={q.y - n.ny * barHalf}
            x2={q.x + n.nx * barHalf}
            y2={q.y + n.ny * barHalf}
            stroke={blue}
            strokeWidth={2}
          />
        );
      })}
    </g>
  );
};

const TextMark = (p: any) => (
  <text
    x={p.cx}
    y={p.cy}
    textAnchor={p.payload.anchor}
    fontFamily={FONT}
    fontSize={p.payload.size}
    fill="#111"
    style={{ whiteSpace: 'pre' }}
  >
    {p.payload.text}
  </text>
);

const RoadLabel = (p: any) => (
  <text
    x={p.cx}
    y={p.cy}
    dy={8}
    textAnchor="middle"
    transform={`rotate(${p.payload.rot} ${p.cx} ${p.cy})`}
    fontFamily={FONT}
    fontSize={24}
    fontStyle={p.payload.len < 60 ? 'italic' : 'normal'}
    fill="#111"
    textLength={p.payload.len}
    lengthAdjust="spacingAndGlyphs"
  >
    {p.payload.text}
  </text>
);

const LightMark = (p: any) => (
  <g>
    <rect x={p.cx - 6} y={p.cy + 9.5} width={13} height={1.5} fill="#fff" />
    <rect x={p.cx - 6} y={p.cy - 9.5} width={12.5} height={19} fill="#666" stroke="#000" strokeWidth={1.6} />
    <rect x={p.cx - 2.5} y={p.cy - 7.5} width={5.5} height={4.5} fill="#ff0000" />
    <rect x={p.cx - 2.5} y={p.cy - 2.2} width={5.5} height={4.5} fill="#ffff00" />
    <rect x={p.cx - 2.5} y={p.cy + 3.2} width={5.5} height={4.5} fill="#00e000" />
  </g>
);

const fmt = (v: number) => String(v);
const tickText: any = { fontFamily: FONT, fontSize: 23.7, fill: '#111' };

const xTick = (side: 'top' | 'bottom') => (p: any) => {
  const v = p.payload.value;
  const major = v % 200 === 0;
  const len = major ? 12 : 6;
  const sgn = side === 'top' ? -1 : 1;
  const y0 = side === 'top' ? 71 : 1138;
  return (
    <g>
      <line x1={p.x} x2={p.x} y1={y0} y2={y0 + sgn * len} stroke="#333" strokeWidth={1} />
      {major && (
        <text x={p.x} y={side === 'top' ? 54 : 1173} textAnchor="middle" {...tickText}>
          {fmt(v)}
        </text>
      )}
    </g>
  );
};

const yTick = (side: 'left' | 'right') => (p: any) => {
  const v = p.payload.value;
  const major = v % 200 === 0;
  const len = major ? 13 : 6;
  const sgn = side === 'left' ? -1 : 1;
  const x0 = side === 'left' ? 72 : 1441;
  const tx = side === 'left' ? 54 : 1458;
  return (
    <g>
      <line x1={x0} x2={x0 + sgn * len} y1={p.y} y2={p.y} stroke="#333" strokeWidth={1} />
      {major && (
        <text
          x={tx}
          y={p.y}
          textAnchor="middle"
          transform={`rotate(${side === 'left' ? -90 : 90} ${tx} ${p.y})`}
          {...tickText}
        >
          {fmt(v)}
        </text>
      )}
    </g>
  );
};

const poly = (flat: number[], fill: string, stroke: string, sw: number, key: string) => (
  <Scatter
    key={key}
    data={pts(flat)}
    dataKey="y"
    isAnimationActive={false}
    shape={NoDot}
    line={polyLine(fill, stroke, sw)}
    lineType="joint"
    legendType="none"
  />
);

const scaleRects = scaleSegments.slice(0, -1).map((e, i) => [
  e, scaleTop, scaleSegments[i + 1], scaleTop, scaleSegments[i + 1], scaleBottom, e, scaleBottom,
]);

export default function App() {
  return (
    <div style={{ position: 'absolute', left: 0, top: 0, width: 1481, height: 1194, overflow: 'hidden', background: '#fff' }}>
      <div style={{ position: 'absolute', left: 7, top: 7, width: 1480, height: 1194, borderLeft: '1.5px solid #333', borderTop: '1.5px solid #333' }} />
      <div style={{ position: 'absolute', left: 11, top: 11, width: 1480, height: 1194, borderLeft: '1px solid #777', borderTop: '1px solid #777' }} />
      <div style={{ position: 'absolute', left: 0, top: 0 }}>
        <ScatterChart width={1481} height={1194} margin={{ top: 70, right: 39, bottom: 55, left: 71 }}>
          <XAxis xAxisId={0} dataKey="x" type="number" orientation="bottom" height={1} domain={xDomain} allowDataOverflow ticks={xTicks} interval={0} tick={xTick('bottom')} tickLine={false} tickSize={0} stroke="#444" />
          <XAxis xAxisId="top" dataKey="x" type="number" orientation="top" height={1} domain={xDomain} allowDataOverflow ticks={xTicks} interval={0} tick={xTick('top')} tickLine={false} tickSize={0} stroke="#444" />
          <YAxis yAxisId={0} dataKey="y" type="number" orientation="left" width={1} domain={yDomain} allowDataOverflow ticks={yTicks} interval={0} tick={yTick('left')} tickLine={false} tickSize={0} stroke="#444" />
          <YAxis yAxisId="right" dataKey="y" type="number" orientation="right" width={1} domain={yDomain} allowDataOverflow ticks={yTicks} interval={0} tick={yTick('right')} tickLine={false} tickSize={0} stroke="#444" />
          <Scatter xAxisId="top" yAxisId="right" data={pts([500, 900])} isAnimationActive={false} shape={NoDot} legendType="none" />
          {rasterLevels.map(([flat, color], i) => poly(flat, color, 'none', 0, 'r' + i))}
          {greyBuildings.map((flat, i) => poly(flat, '#bfbfbf', '#000', 1.8, 'g' + i))}
          {blueBuildings.map((flat, i) => poly(flat, '#a3c7ef', '#000', 1.8, 'b' + i))}
          <Scatter data={pts(roadWest)} isAnimationActive={false} shape={NoDot} lineType="joint" line={roadLine(8.5, 6.5, 8.5, 0)} legendType="none" />
          <Scatter data={pts(roadSouth)} isAnimationActive={false} shape={NoDot} lineType="joint" line={roadLine(9.5, 7, 9.5, 0)} legendType="none" />
          <Scatter data={pts(roadEast)} isAnimationActive={false} shape={NoDot} lineType="joint" line={roadLine(8.5, 5.5, 8.5, 14)} legendType="none" />
          <Scatter
            data={trafficLights.map(([e, n]) => ({ x: E0 + e, y: N0 + n }))}
            isAnimationActive={false}
            shape={LightMark}
            legendType="none"
          />
          {scaleRects.map((flat, i) => poly(flat, i % 2 ? '#000' : '#fff', '#000', 1, 's' + i))}
          <Scatter
            data={textLabels.map((l) => ({ ...l, x: E0 + l.e, y: N0 + l.n }))}
            isAnimationActive={false}
            shape={TextMark}
            legendType="none"
          />
          <Scatter
            data={roadLabels.map((l) => ({ ...l, x: E0 + l.e, y: N0 + l.n }))}
            isAnimationActive={false}
            shape={RoadLabel}
            legendType="none"
          />
        </ScatterChart>
      </div>
    </div>
  );
}
